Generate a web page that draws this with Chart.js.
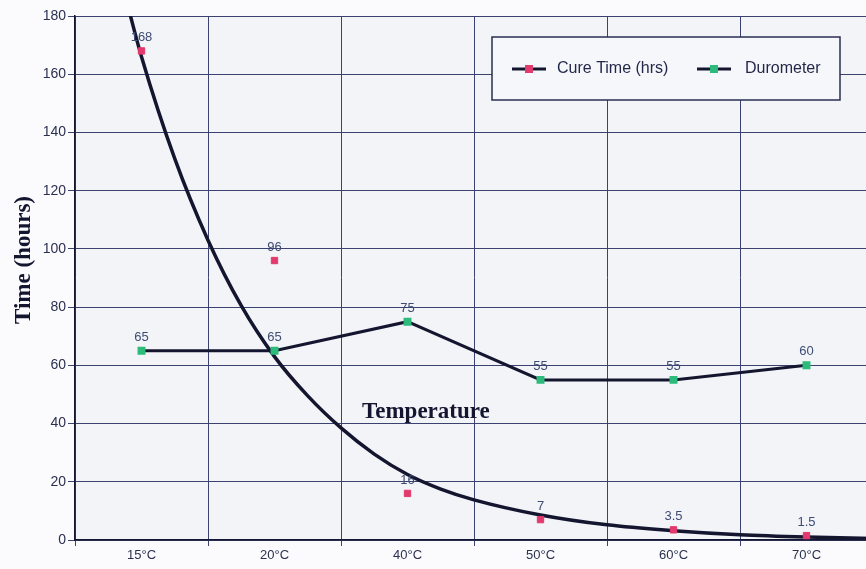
<!DOCTYPE html>
<html>
<head>
<meta charset="utf-8">
<script src="https://cdn.jsdelivr.net/npm/chart.js@4.4.0/dist/chart.umd.min.js"></script>
<style>
  html, body { margin: 0; padding: 0; background: #fbfbfd; overflow: hidden; }
  #wrap { width: 880px; height: 569px; position: relative; }
</style>
</head>
<body>
<div id="wrap"><canvas id="grafica"></canvas></div>
<script>
// datos
const temperaturas = ['15°C', '20°C', '40°C', '50°C', '60°C', '70°C'];
const tiempoCurado = [168, 96, 16, 7, 3.5, 1.5];
const durometro = [65, 65, 75, 55, 55, 60];
// curva de tendencia (leida punto a punto sobre la imagen)
const tendenciaX = [-0.1, 0, 0.25, 0.5, 0.75, 1, 1.25, 1.5, 1.75, 2, 2.25, 2.5, 3, 3.5, 4, 4.5, 5, 5.5];
const tendenciaY = [183, 166, 131, 103, 80.5, 63, 49.5, 38.5, 29.5, 22.5, 17.5, 13.8, 8.6, 5.2, 3.2, 1.8, 1.0, 0.5];
const ejeY = { min: 0, max: 180, paso: 20 };

const tinta = '#141630';
const rejilla = '#3c4270';
const rosa = '#e23a6c';
const verde = '#2dbb7c';

const pluginDecorado = {
    id: 'decorado',
    beforeDraw(chart) {
        const { ctx, chartArea: a } = chart;
        ctx.save();
        ctx.fillStyle = '#f3f4f8';
        ctx.fillRect(a.left, a.top, a.right - a.left, a.bottom - a.top);
        ctx.restore();
    },
    afterDatasetsDraw(chart) {
        const ctx = chart.ctx;
        ctx.save();
        // etiquetas de valores
        ctx.font = '13px "Liberation Sans", Arial, sans-serif';
        ctx.fillStyle = '#3e4c72';
        ctx.textAlign = 'center';
        ctx.textBaseline = 'bottom';
        chart.data.datasets.forEach((ds, i) => {
            if (!ds.etiquetas) return;
            chart.getDatasetMeta(i).data.forEach((p, j) => {
                ctx.fillText(String(ds.data[j]), p.x, p.y - 7);
            });
        });

        // titulos
        ctx.fillStyle = tinta;
        ctx.font = 'bold 23px "Liberation Serif", "Times New Roman", serif';
        ctx.textAlign = 'left';
        ctx.textBaseline = 'alphabetic';
        ctx.fillText('Temperature', 362, 418);
        ctx.translate(30, 260);
        ctx.rotate(-Math.PI / 2);
        ctx.textAlign = 'center';
        ctx.fillText('Time (hours)', 0, 0);
        ctx.restore();

        // leyenda
        ctx.save();
        ctx.fillStyle = '#f6f7fa';
        ctx.fillRect(492, 37, 348, 63);
        ctx.strokeStyle = '#2a2e50';
        ctx.lineWidth = 1.5;
        ctx.strokeRect(492, 37, 348, 63);
        const items = [
            { texto: 'Cure Time (hrs)', color: rosa, x: 512, tx: 557 },
            { texto: 'Durometer', color: verde, x: 697, tx: 745 }
        ];
        items.forEach(it => {
            ctx.strokeStyle = tinta;
            ctx.lineWidth = 3;
            ctx.beginPath();
            ctx.moveTo(it.x, 69);
            ctx.lineTo(it.x + 34, 69);
            ctx.stroke();
            ctx.fillStyle = it.color;
            ctx.fillRect(it.x + 13, 65, 8, 8);
            ctx.fillStyle = '#23284a';
            ctx.font = '16px "Liberation Sans", Arial, sans-serif';
            ctx.textAlign = 'left';
            ctx.textBaseline = 'middle';
            ctx.fillText(it.texto, it.tx, 69);
        });
        ctx.restore();
    }
};

const ctx = document.getElementById('grafica').getContext('2d');

new Chart(ctx, {
    type: 'line',
    data: {
        labels: temperaturas,
        datasets: [
            {
                label: 'Cure Time (hrs)',
                data: tiempoCurado,
                showLine: false,
                pointStyle: 'rect',
                pointRadius: 4.5,
                pointBackgroundColor: rosa,
                pointBorderColor: rosa,
                etiquetas: true,
                order: 0
            },
            {
                label: 'Durometer',
                data: durometro,
                borderColor: tinta,
                borderWidth: 3,
                tension: 0,
                pointStyle: 'rect',
                pointRadius: 3.5,
                pointBackgroundColor: verde,
                pointBorderColor: verde,
                etiquetas: true,
                order: 1
            },
            {
                label: 'Tendencia',
                data: tendenciaX.map((x, i) => ({ x: x, y: tendenciaY[i] })),
                xAxisID: 'xt',
                borderColor: tinta,
                borderWidth: 3.5,
                cubicInterpolationMode: 'monotone',
                pointRadius: 0,
                order: 2
            }
        ]
    },
    options: {
        responsive: true,
        maintainAspectRatio: false,
        animation: false,
        layout: { padding: { top: 16, right: 4, left: 0, bottom: 0 } },
        plugins: {
            legend: { display: false },
            tooltip: { enabled: false }
        },
        scales: {
            x: {
                type: 'category',
                offset: true,
                grid: { offset: true, color: rejilla, lineWidth: 1, tickLength: 6 },
                border: { color: tinta, width: 1.5 },
                ticks: {
                    color: '#2b3050',
                    font: { family: '"Liberation Sans", Arial, sans-serif', size: 13 },
                    padding: 2,
                    maxRotation: 0
                },
                afterFit: s => { s.height = 29; }
            },
            xt: {
                type: 'linear',
                display: false,
                min: -0.5,
                max: 5.5
            },
            y: {
                min: ejeY.min,
                max: ejeY.max,
                ticks: {
                    stepSize: ejeY.paso,
                    color: '#2b3050',
                    font: { family: '"Liberation Sans", Arial, sans-serif', size: 14 },
                    padding: 2
                },
                grid: { color: rejilla, lineWidth: 1, tickLength: 7 },
                border: { color: tinta, width: 1.5 },
                afterFit: s => { s.width = 75; }
            }
        }
    },
    plugins: [pluginDecorado]
});
</script>
</body>
</html>
